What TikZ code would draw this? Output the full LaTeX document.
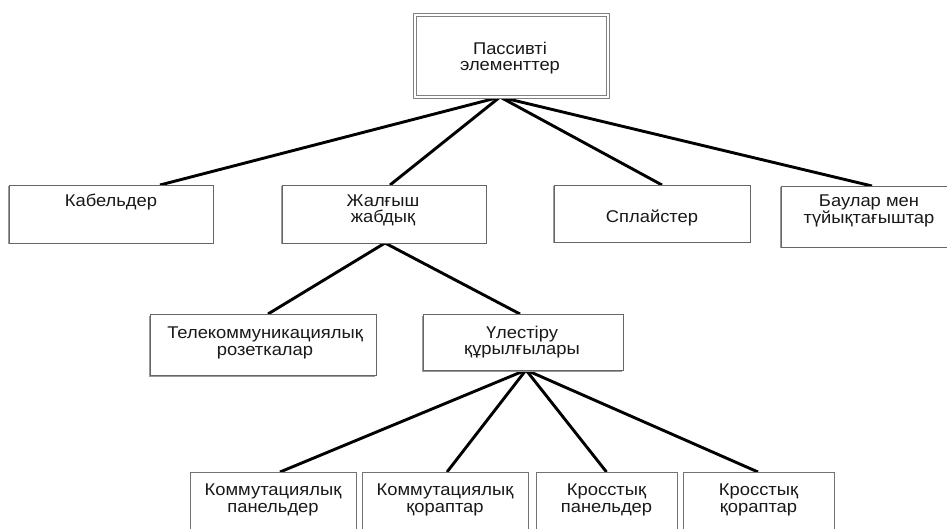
\documentclass[tikz,border=0pt]{standalone}
\usepackage{fontspec}
\setmainfont[FakeStretch=1.08]{Liberation Sans}
\usetikzlibrary{shadows,backgrounds}
\begin{document}
\begin{tikzpicture}[x=1pt,y=-1pt,
  box/.style={draw=black!60, line width=0.9pt, fill=white, inner sep=0pt, outer sep=0pt, anchor=north west},
  shbox/.style={box, drop shadow={shadow xshift=-1.5pt, shadow yshift=-1.5pt, fill=black!40, opacity=1}},
  lowbox/.style={box, draw=black!55, line width=0.8pt},
  txt/.style={anchor=base, inner sep=0pt, text=black!90, font=\fontsize{17}{17}\selectfont},
  link/.style={line width=2.9pt, black}]
\useasboundingbox (0,0) rectangle (947,529);
% top box
\node[draw=black!50, double=white, double distance=2pt, line width=1pt, fill=white,
      inner sep=0pt, outer sep=0pt, anchor=north west, minimum width=193pt, minimum height=82pt] (top) at (415,15) {};
\node[txt] (topA) at (510,55) {Пассивті};
\node[txt] (topB) at (510,71) {элементтер};
% second row
\node[shbox, minimum width=204pt, minimum height=58pt] (kab) at (9,185) {};
\node[txt] (kabA) at (111,207) {Кабельдер};
\node[shbox, minimum width=204pt, minimum height=58pt] (zhal) at (282,185) {};
\node[txt] (zhalA) at (383,207) {Жалғыш};
\node[txt] (zhalB) at (383,223) {жабдық};
\node[shbox, minimum width=196pt, minimum height=57pt] (spl) at (554,185) {};
\node[txt] (splA) at (652,223) {Сплайстер};
\node[shbox, minimum width=176pt, minimum height=61pt] (baul) at (781,186) {};
\node[txt] (baulA) at (869,207) {Баулар мен};
\node[txt] (baulB) at (869,224) {түйықтағыштар};
% third row
\node[shbox, minimum width=226pt, minimum height=61pt] (tel) at (150,314) {};
\node[txt] (telA) at (265,338) {Телекоммуникациялық};
\node[txt] (telB) at (265,355) {розеткалар};
\node[shbox, minimum width=200pt, minimum height=56pt] (ul) at (423,314) {};
\node[txt] (ulA) at (522,338) {Үлестіру};
\node[txt] (ulB) at (522,354) {құрылғылары};
% bottom row
\node[lowbox, minimum width=166pt, minimum height=75pt] (b1) at (190,472) {};
\node[txt] (b1A) at (273,495) {Коммутациялық};
\node[txt] (b1B) at (273,512) {панельдер};
\node[lowbox, minimum width=166pt, minimum height=75pt] (b2) at (362,472) {};
\node[txt] (b2A) at (445,495) {Коммутациялық};
\node[txt] (b2B) at (445,512) {қораптар};
\node[lowbox, minimum width=141pt, minimum height=75pt] (b3) at (536,472) {};
\node[txt] (b3A) at (606.5,495) {Кросстық};
\node[txt] (b3B) at (606.5,512) {панельдер};
\node[lowbox, minimum width=151pt, minimum height=75pt] (b4) at (683,472) {};
\node[txt] (b4A) at (758.5,495) {Кросстық};
\node[txt] (b4B) at (758.5,512) {қораптар};
% connectors
\begin{pgfonlayer}{background}
\fill[white] (0,0) rectangle (947,529);
\draw[link] ([xshift=-11.5pt]top.south) -- ([xshift=49pt]kab.north);
\draw[link] ([xshift=-11.5pt]top.south) -- ([xshift=6pt]zhal.north);
\draw[link] ([xshift=-11.5pt]top.south) -- ([xshift=10pt]spl.north);
\draw[link] ([xshift=-11.5pt]top.south) -- ([xshift=3pt]baul.north);
\draw[link] ([xshift=1pt]zhal.south) -- ([xshift=5pt]tel.north);
\draw[link] ([xshift=1pt]zhal.south) -- ([xshift=-3pt]ul.north);
\draw[link] ([xshift=3pt]ul.south) -- ([xshift=7pt]b1.north);
\draw[link] ([xshift=3pt]ul.south) -- ([xshift=2pt]b2.north);
\draw[link] ([xshift=3pt]ul.south) -- (b3.north);
\draw[link] ([xshift=3pt]ul.south) -- ([xshift=-0.5pt]b4.north);
\end{pgfonlayer}
\end{tikzpicture}
\end{document}
